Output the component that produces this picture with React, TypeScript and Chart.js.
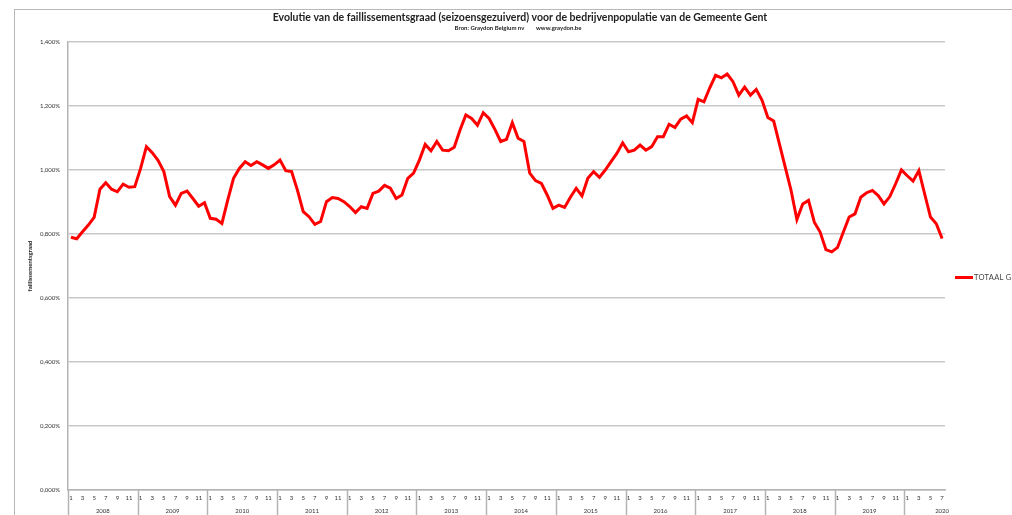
import React, { useEffect, useRef } from "react";
import { Chart, registerables } from "chart.js";

Chart.register(...registerables);

const chartTitle =
  "Evolutie van de faillissementsgraad (seizoensgezuiverd) voor de bedrijvenpopulatie van de Gemeente Gent";
const chartSubtitle = "Bron: Graydon Belgium nv        www.graydon.be";
const yAxisTitle = "faillissementsgraad";
const seriesName = "TOTAAL GENT";

const years = [2008, 2009, 2010, 2011, 2012, 2013, 2014, 2015, 2016, 2017, 2018, 2019, 2020];
const monthsInYear = [12, 12, 12, 12, 12, 12, 12, 12, 12, 12, 12, 12, 7];

// faillissementsgraad in %, monthly from Jan 2008 to Jul 2020
const rate2008 = [0.79, 0.785, 0.807, 0.828, 0.852, 0.94, 0.96, 0.94, 0.932, 0.956, 0.946, 0.948];
const rate2009 = [1.005, 1.073, 1.054, 1.03, 0.995, 0.917, 0.89, 0.927, 0.934, 0.911, 0.887, 0.898];
const rate2010 = [0.849, 0.846, 0.833, 0.906, 0.974, 1.005, 1.026, 1.014, 1.026, 1.016, 1.005, 1.016];
const rate2011 = [1.031, 0.998, 0.995, 0.937, 0.87, 0.854, 0.83, 0.839, 0.901, 0.914, 0.911, 0.901];
const rate2012 = [0.886, 0.867, 0.885, 0.88, 0.927, 0.934, 0.952, 0.943, 0.911, 0.922, 0.974, 0.99];
const rate2013 = [1.031, 1.08, 1.06, 1.089, 1.062, 1.06, 1.071, 1.125, 1.172, 1.161, 1.14, 1.179];
const rate2014 = [1.161, 1.127, 1.089, 1.096, 1.148, 1.099, 1.089, 0.99, 0.967, 0.958, 0.922, 0.88];
const rate2015 = [0.89, 0.883, 0.915, 0.943, 0.919, 0.974, 0.995, 0.977, 1.0, 1.026, 1.052, 1.085];
const rate2016 = [1.057, 1.062, 1.078, 1.062, 1.073, 1.104, 1.104, 1.143, 1.133, 1.159, 1.169, 1.148];
const rate2017 = [1.221, 1.213, 1.257, 1.296, 1.288, 1.3, 1.276, 1.234, 1.259, 1.234, 1.252, 1.218];
const rate2018 = [1.164, 1.153, 1.081, 1.008, 0.936, 0.845, 0.894, 0.905, 0.837, 0.806, 0.751, 0.744];
const rate2019 = [0.758, 0.806, 0.853, 0.863, 0.915, 0.929, 0.936, 0.92, 0.894, 0.917, 0.957, 1.0];
const rate2020 = [0.982, 0.965, 0.998, 0.925, 0.853, 0.832, 0.786];

const yMin = 0;
const yMax = 1.4;
const yStep = 0.2;

const FONT = "Lato, 'Liberation Sans', sans-serif";

export default function App() {
  const canvasRef = useRef<HTMLCanvasElement | null>(null);

  useEffect(() => {
    const canvas = canvasRef.current;
    if (!canvas) return;

    const values = [
      ...rate2008, ...rate2009, ...rate2010, ...rate2011, ...rate2012, ...rate2013,
      ...rate2014, ...rate2015, ...rate2016, ...rate2017, ...rate2018, ...rate2019, ...rate2020,
    ];
    const labels: string[] = [];
    years.forEach((_, k) => {
      for (let m = 1; m <= monthsInYear[k]; m++) labels.push(String(m));
    });

    const decorPlugin = {
      id: "decor",
      afterDraw(chart: any) {
        const ctx = chart.ctx as CanvasRenderingContext2D;
        const xs = chart.scales.x;
        const area = chart.chartArea;
        const step = xs.getPixelForValue(1) - xs.getPixelForValue(0);
        ctx.save();
        // titles
        ctx.fillStyle = "#222";
        ctx.textAlign = "center";
        ctx.textBaseline = "middle";
        ctx.font = `bold 10.5px ${FONT}`;
        ctx.fillText(chartTitle, 512, 10);
        ctx.font = `bold 6px ${FONT}`;
        ctx.fillText(chartSubtitle, 510, 20);
        // y axis title
        ctx.save();
        ctx.translate(22, 258);
        ctx.rotate(-Math.PI / 2);
        ctx.font = `bold 6px ${FONT}`;
        ctx.fillText(yAxisTitle, 0, 0);
        ctx.restore();
        // year groups
        let idx = 0;
        ctx.strokeStyle = "#b4b4b4";
        ctx.lineWidth = 1.5;
        ctx.font = `6px ${FONT}`;
        ctx.fillStyle = "#333";
        years.forEach((yr, k) => {
          const n = monthsInYear[k];
          const start = xs.getPixelForValue(idx) - step / 2;
          const end = xs.getPixelForValue(idx + n - 1) + step / 2;
          ctx.beginPath();
          ctx.moveTo(Math.round(start) + 0.5, area.bottom);
          ctx.lineTo(Math.round(start) + 0.5, chart.height);
          ctx.stroke();
          const cx = n === 12 ? (start + end) / 2 : xs.getPixelForValue(idx + n - 1);
          ctx.fillText(String(yr), cx, area.bottom + 21);
          idx += n;
        });
        ctx.restore();
      },
    };

    const chart = new Chart(canvas, {
      type: "line",
      data: {
        labels,
        datasets: [
          {
            label: seriesName,
            data: values,
            borderColor: "#ff0000",
            backgroundColor: "#ff0000",
            borderWidth: 3,
            pointRadius: 0,
            tension: 0,
          },
        ],
      },
      options: {
        responsive: false,
        animation: false,
        devicePixelRatio: 1,
        layout: { padding: { left: 0, right: 67, top: 34, bottom: 0 } },
        plugins: {
          legend: { display: false },
          title: { display: false },
          tooltip: { enabled: false },
        },
        scales: {
          x: {
            type: "category",
            offset: true,
            grid: { display: false, drawTicks: false },
            border: { display: true, color: "#b4b4b4", width: 1.5 },
            ticks: {
              autoSkip: false,
              maxRotation: 0,
              minRotation: 0,
              padding: 4,
              color: "#333",
              font: { size: 6, family: FONT },
              callback: (_v: any, index: number) => {
                let i = index;
                for (let k = 0; k < monthsInYear.length; k++) {
                  if (i < monthsInYear[k]) break;
                  i -= monthsInYear[k];
                }
                return i % 2 === 0 ? labels[index] : "";
              },
            },
            afterFit: (s: any) => {
              s.height = 25;
            },
          },
          y: {
            min: yMin,
            max: yMax,
            grid: { color: "#c8c8c8", lineWidth: 1.5, drawTicks: false },
            border: { display: true, color: "#b4b4b4", width: 1.5 },
            ticks: {
              stepSize: yStep,
              padding: 8,
              color: "#333",
              font: { size: 6, family: FONT },
              callback: (v: any) => Number(v).toFixed(3).replace(".", ",") + "%",
            },
            afterFit: (s: any) => {
              s.width = 60;
            },
          },
        },
      },
      plugins: [decorPlugin],
    });

    return () => chart.destroy();
  }, []);

  return (
    <div
      style={{
        position: "fixed",
        left: 0,
        top: 0,
        width: 1012,
        height: 515,
        overflow: "hidden",
        background: "#fff",
      }}
    >
      <div
        style={{
          position: "absolute",
          left: 14,
          top: 9,
          width: 1200,
          height: 700,
          borderTop: "1px solid #b8b8b8",
          borderLeft: "1px solid #b8b8b8",
        }}
      />
      <canvas
        ref={canvasRef}
        width={1004}
        height={507}
        style={{ position: "absolute", left: 8, top: 8, width: 1004, height: 507 }}
      />
      <div
        style={{
          position: "absolute",
          left: 955,
          top: 273,
          display: "flex",
          alignItems: "center",
          whiteSpace: "nowrap",
          fontFamily: FONT,
          fontSize: 7.5,
          letterSpacing: 0.3,
          color: "#444",
        }}
      >
        <span
          style={{ display: "inline-block", width: 18, height: 3, background: "#ff0000", marginRight: 1 }}
        />
        <span>{seriesName}</span>
      </div>
    </div>
  );
}
